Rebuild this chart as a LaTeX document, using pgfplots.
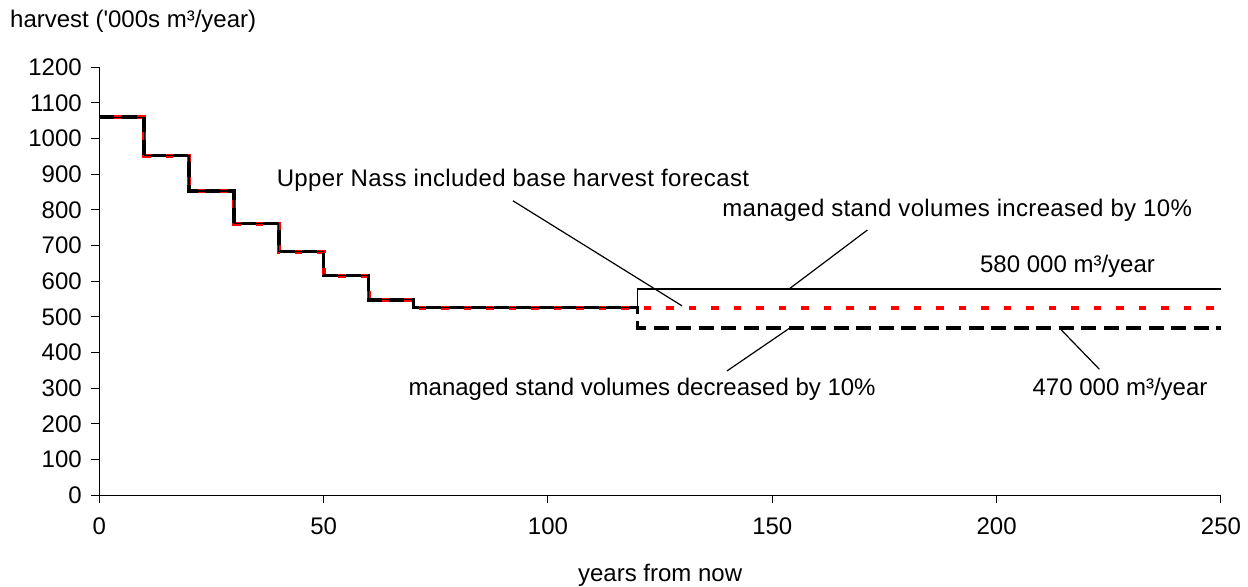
\documentclass[border=0pt]{standalone}
\usepackage{fontspec}
\setmainfont{Liberation Sans}
\usepackage{pgfplots}
\pgfplotsset{compat=1.18}
\begin{document}
\begin{tikzpicture}[font=\fontsize{24bp}{28bp}\selectfont]
\path[use as bounding box] (0,0) rectangle (1248bp,587bp);
\begin{axis}[
  at={(99.3bp,91.7bp)}, anchor=south west,
  width=1121.7bp, height=428bp, scale only axis,
  xmin=0, xmax=250, ymin=0, ymax=1200,
  axis x line*=bottom, axis y line*=left,
  axis line style={-, black, line width=1.2bp},
  xtick={0,50,...,250}, ytick={0,100,...,1200},
  tick align=outside, major tick length=8bp,
  tick style={black, line width=1bp},
  /pgf/number format/assume math mode=true,
  /pgf/number format/1000 sep={},
  ticklabel style={font=\fontsize{24bp}{28bp}\selectfont},
  xticklabel style={yshift=-11bp},
  yticklabel style={xshift=-6bp},
  xlabel={years from now},
  xlabel style={at={(axis description cs:0.5,0)}, anchor=base, yshift=-85.7bp, inner sep=0pt},
  ylabel={harvest (\textquotesingle000s m³/year)},
  ylabel style={rotate=-90, at={(axis description cs:0,1)}, anchor=base west, xshift=-89.3bp, yshift=39.3bp, inner sep=0pt},
  clip=false,
]
% base harvest forecast (red dashed)
\addplot[red, line width=4bp, dash pattern=on 7.5bp off 15bp, dash phase=7.5bp] coordinates {
 (0,1060) (10,1060) (10,952) (20,952) (20,853) (30,853) (30,762) (40,762)
 (40,683) (50,683) (50,616) (60,616) (60,548) (70,548) (70,526) (120,526) (250,526)};
% managed stand volumes decreased by 10% (black dashed)
\addplot[black, line width=3.5bp, dash pattern=on 15bp off 7.5bp] coordinates {
 (0,1060) (10,1060) (10,952) (20,952) (20,853) (30,853) (30,762) (40,762)
 (40,683) (50,683) (50,616) (60,616) (60,548) (70,548) (70,526) (120,526) (120,469) (250,469)};
% managed stand volumes increased by 10% (thin solid)
\addplot[black, line width=1.3bp] coordinates {
 (0,1060) (10,1060) (10,952) (20,952) (20,853) (30,853) (30,762) (40,762)
 (40,683) (50,683) (50,616) (60,616) (60,548) (70,548) (70,526) (120,526) (120,578) (250,578)};

% annotations
\node[anchor=base] at (axis cs:92.2,867) {\addfontfeature{LetterSpace=1.6}Upper Nass included base harvest forecast};
\draw[black, line width=1.2bp] (axis cs:92.2,825.7) -- (axis cs:129.9,531);
\node[anchor=base] at (axis cs:191.2,783) {\addfontfeature{LetterSpace=1.4}managed stand volumes increased by 10\%};
\draw[black, line width=1.2bp] (axis cs:171.2,743.8) -- (axis cs:153.7,578);
\node[anchor=base] at (axis cs:215.8,626) {580 000 m³/year};
\node[anchor=base] at (axis cs:121.0,281.2) {managed stand volumes decreased by 10\%};
\draw[black, line width=1.2bp] (axis cs:139.9,348.7) -- (axis cs:153.9,469);
\node[anchor=base] at (axis cs:227.5,281.2) {470 000 m³/year};
\draw[black, line width=1.2bp] (axis cs:214.0,469) -- (axis cs:222.9,353.3);
\end{axis}
\end{tikzpicture}
\end{document}
